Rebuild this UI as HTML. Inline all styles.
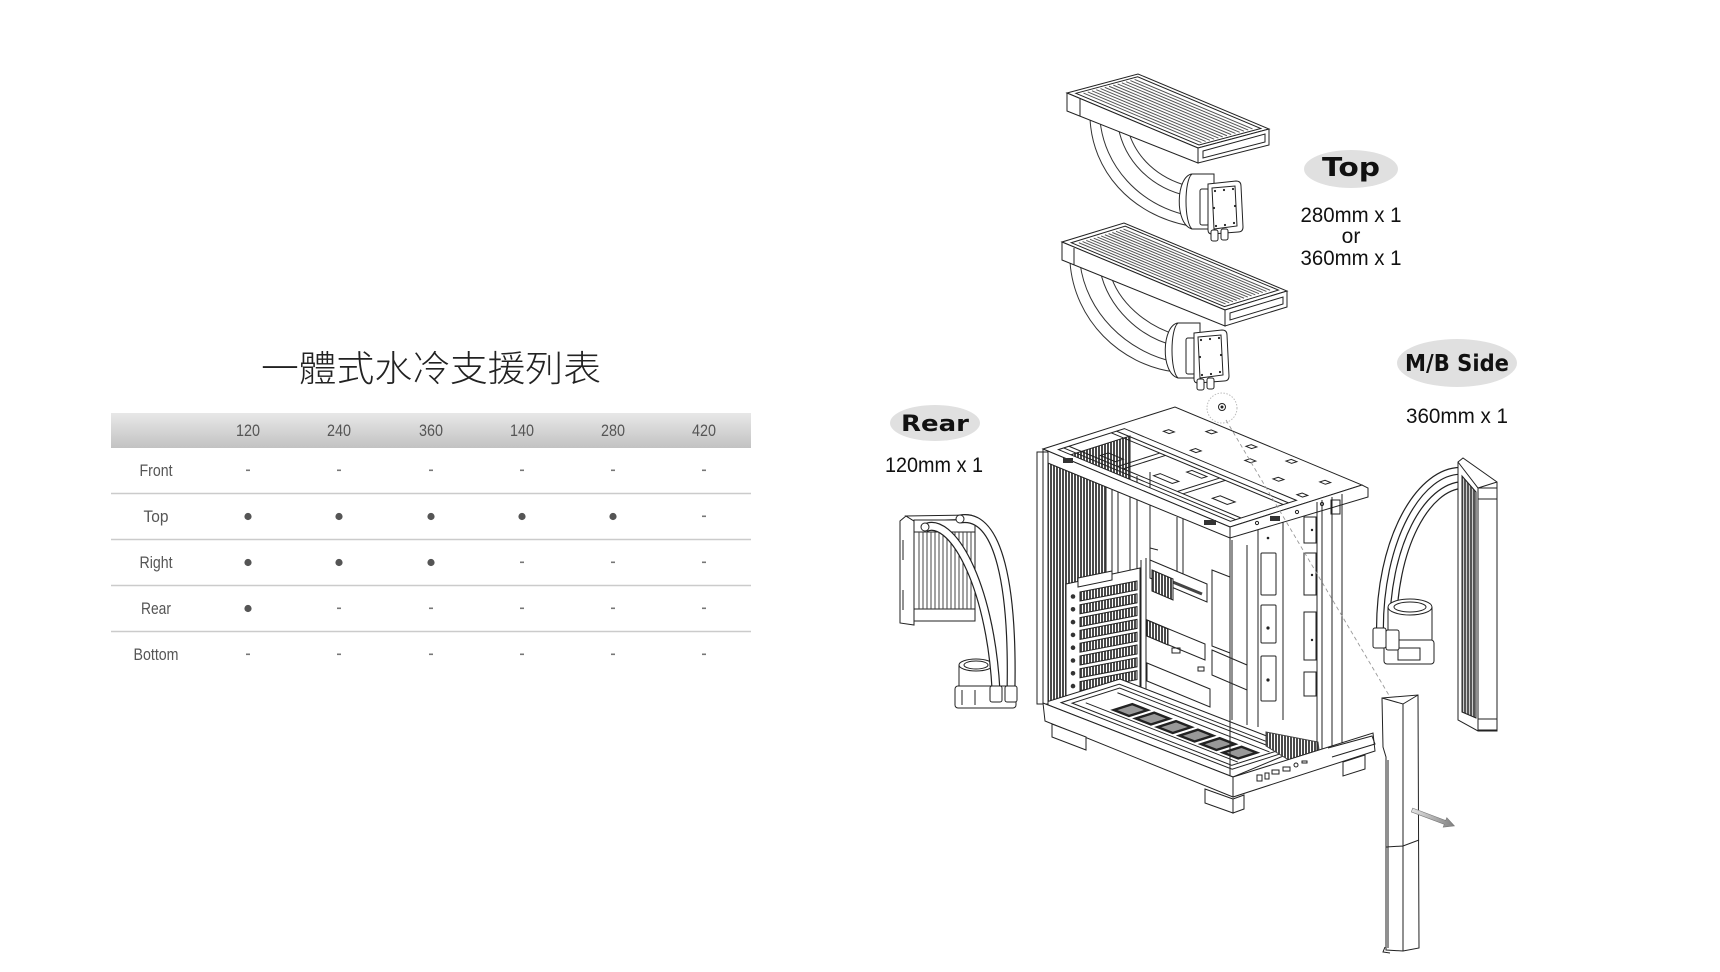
<!DOCTYPE html>
<html><head><meta charset="utf-8"><title>一體式水冷支援列表</title>
<style>html,body{margin:0;padding:0;background:#fff;width:1720px;height:972px;overflow:hidden}svg{display:block}</style>
</head><body>
<svg xmlns="http://www.w3.org/2000/svg" width="1720" height="972" viewBox="0 0 1720 972">
<defs>
<linearGradient id="hg" x1="0" y1="0" x2="0" y2="1"><stop offset="0" stop-color="#e8e8e8"/><stop offset="1" stop-color="#c2c2c2"/></linearGradient>
<pattern id="mesh" width="3" height="3" patternUnits="userSpaceOnUse"><rect width="3" height="3" fill="#fff"/><rect width="2" height="3" fill="#4a4a4a"/></pattern>
<pattern id="fin" width="3" height="4" patternUnits="userSpaceOnUse"><rect width="3" height="4" fill="#ccc"/><rect width="2" height="4" fill="#555"/></pattern>
<linearGradient id="ar" x1="0" y1="0" x2="1" y2="0"><stop offset="0" stop-color="#e4e4e4"/><stop offset="1" stop-color="#808080"/></linearGradient>
</defs>

<!-- ===== TABLE ===== -->
<text x="431" y="381" font-family="'Liberation Sans','Noto Sans CJK TC',sans-serif" font-size="36" font-weight="300" fill="#222" text-anchor="middle" textLength="340" lengthAdjust="spacingAndGlyphs">一體式水冷支援列表</text>
<rect x="111" y="413" width="640" height="35" fill="url(#hg)"/>
<g font-family="'Liberation Sans',sans-serif" font-size="17" fill="#555" text-anchor="middle">
<text x="248" y="436" textLength="24" lengthAdjust="spacingAndGlyphs">120</text>
<text x="339" y="436" textLength="24" lengthAdjust="spacingAndGlyphs">240</text>
<text x="431" y="436" textLength="24" lengthAdjust="spacingAndGlyphs">360</text>
<text x="522" y="436" textLength="24" lengthAdjust="spacingAndGlyphs">140</text>
<text x="613" y="436" textLength="24" lengthAdjust="spacingAndGlyphs">280</text>
<text x="704" y="436" textLength="24" lengthAdjust="spacingAndGlyphs">420</text>
<text x="156" y="476" textLength="33" lengthAdjust="spacingAndGlyphs">Front</text>
<text x="156" y="522" textLength="25" lengthAdjust="spacingAndGlyphs">Top</text>
<text x="156" y="568" textLength="33" lengthAdjust="spacingAndGlyphs">Right</text>
<text x="156" y="614" textLength="30" lengthAdjust="spacingAndGlyphs">Rear</text>
<text x="156" y="660" textLength="45" lengthAdjust="spacingAndGlyphs">Bottom</text>
</g>
<path d="M111,493.5H751M111,539.5H751M111,585.5H751M111,631.5H751" stroke="#cbcbcb" stroke-width="1.4"/>
<g fill="#555">
<circle cx="248" cy="516.5" r="3.6"/><circle cx="339" cy="516.5" r="3.6"/><circle cx="431" cy="516.5" r="3.6"/><circle cx="522" cy="516.5" r="3.6"/><circle cx="613" cy="516.5" r="3.6"/>
<circle cx="248" cy="562.5" r="3.6"/><circle cx="339" cy="562.5" r="3.6"/><circle cx="431" cy="562.5" r="3.6"/>
<circle cx="248" cy="608.5" r="3.6"/>
</g>
<g fill="#777">
<rect x="246" y="469.5" width="4" height="1.6"/><rect x="337" y="469.5" width="4" height="1.6"/><rect x="429" y="469.5" width="4" height="1.6"/><rect x="520" y="469.5" width="4" height="1.6"/><rect x="611" y="469.5" width="4" height="1.6"/><rect x="702" y="469.5" width="4" height="1.6"/>
<rect x="702" y="515.5" width="4" height="1.6"/>
<rect x="520" y="561.5" width="4" height="1.6"/><rect x="611" y="561.5" width="4" height="1.6"/><rect x="702" y="561.5" width="4" height="1.6"/>
<rect x="337" y="607.5" width="4" height="1.6"/><rect x="429" y="607.5" width="4" height="1.6"/><rect x="520" y="607.5" width="4" height="1.6"/><rect x="611" y="607.5" width="4" height="1.6"/><rect x="702" y="607.5" width="4" height="1.6"/>
<rect x="246" y="653.5" width="4" height="1.6"/><rect x="337" y="653.5" width="4" height="1.6"/><rect x="429" y="653.5" width="4" height="1.6"/><rect x="520" y="653.5" width="4" height="1.6"/><rect x="611" y="653.5" width="4" height="1.6"/><rect x="702" y="653.5" width="4" height="1.6"/>
</g>

<!-- ===== LABELS ===== -->
<ellipse cx="1351" cy="169" rx="47" ry="19" fill="#e0e0e0"/>
<ellipse cx="935" cy="423" rx="45" ry="18" fill="#e0e0e0"/>
<ellipse cx="1457" cy="363" rx="60" ry="24" fill="#e0e0e0"/>
<g font-family="'DejaVu Sans','Liberation Sans',sans-serif" font-weight="bold" fill="#111" text-anchor="middle">
<text x="1351" y="176" font-size="26" textLength="58" lengthAdjust="spacingAndGlyphs">Top</text>
<text x="935" y="431" font-size="22" textLength="68" lengthAdjust="spacingAndGlyphs">Rear</text>
<text x="1457" y="371" font-size="23" textLength="104" lengthAdjust="spacingAndGlyphs">M/B Side</text>
</g>
<g font-family="'Liberation Sans',sans-serif" font-size="21" fill="#111" text-anchor="middle">
<text x="1351" y="222" textLength="101" lengthAdjust="spacingAndGlyphs">280mm x 1</text>
<text x="1351" y="243">or</text>
<text x="1351" y="265" textLength="101" lengthAdjust="spacingAndGlyphs">360mm x 1</text>
<text x="934" y="472" textLength="98" lengthAdjust="spacingAndGlyphs">120mm x 1</text>
<text x="1457" y="423" textLength="102" lengthAdjust="spacingAndGlyphs">360mm x 1</text>
</g>

<!-- ===== TOP RADIATOR 1 (280) ===== -->
<g stroke="#333" fill="none" stroke-width="1">
<path d="M1090,118 C1092,170 1130,215 1190,226 M1100,120 C1104,165 1138,205 1190,216 M1118,126 C1124,160 1150,188 1188,196 M1128,130 C1136,158 1158,178 1188,186"/>
</g>
<g transform="matrix(1.31,0.55,0.71,-0.19,1067,93)" stroke="#222" fill="none">
<rect width="100" height="100" fill="#fff" vector-effect="non-scaling-stroke"/>
<rect x="3" y="7" width="94" height="87" vector-effect="non-scaling-stroke"/>
<path d="M5,14H95M5,20H95M5,26H95M5,32H95M5,38H95M5,44H95M5,50H95M5,56H95M5,62H95M5,68H95M5,74H95M5,80H95M5,86H95" stroke="#555" vector-effect="non-scaling-stroke"/>
</g>
<polygon points="1067,93 1198,148 1198,163 1067,111" fill="#fff" stroke="#222"/>
<polygon points="1198,148 1269,129 1269,145 1198,163" fill="#fff" stroke="#222"/>
<polygon points="1203,151 1265,134 1265,142 1203,158" fill="none" stroke="#222"/>
<path d="M1080,99 V116" stroke="#222"/>

<g stroke="#222" fill="#fff">
<path d="M1214,174 H1192 C1176,176 1174,224 1192,229 H1214 Z"/>
<path d="M1192,174 C1184,180 1184,222 1192,229" fill="none"/>
<rect x="1200" y="189" width="9" height="36" rx="2"/>
<path d="M1208,184 L1236,181 Q1241,181 1241,186 L1243,227 Q1243,232 1238,232 L1212,234 Q1208,234 1208,230 Z"/>
<path d="M1212,188 L1235,186 L1237,226 L1214,229 Z" fill="none"/>
<rect x="1211" y="230" width="7" height="11" rx="2"/>
<rect x="1221" y="229" width="7" height="11" rx="2"/>
<g fill="#222" stroke="none">
<circle cx="1215" cy="191" r="1.1"/><circle cx="1233" cy="189" r="1.1"/><circle cx="1234" cy="223" r="1.1"/><circle cx="1216" cy="226" r="1.1"/><circle cx="1224" cy="190" r="1.1"/><circle cx="1235" cy="206" r="1.1"/><circle cx="1225" cy="225" r="1.1"/><circle cx="1214" cy="208" r="1.1"/>
</g>
</g>

<!-- ===== TOP RADIATOR 2 (360) ===== -->
<g stroke="#333" fill="none" stroke-width="1">
<path d="M1070,262 C1074,320 1120,365 1175,372 M1080,263 C1086,312 1126,352 1175,362 M1100,270 C1108,308 1140,338 1176,346 M1110,273 C1118,302 1146,326 1177,335"/>
</g>
<g transform="matrix(1.63,0.68,0.62,-0.19,1062,242)" stroke="#222" fill="none">
<rect width="100" height="100" fill="#fff" vector-effect="non-scaling-stroke"/>
<rect x="3" y="7" width="94" height="87" vector-effect="non-scaling-stroke"/>
<path d="M5,14H95M5,20H95M5,26H95M5,32H95M5,38H95M5,44H95M5,50H95M5,56H95M5,62H95M5,68H95M5,74H95M5,80H95M5,86H95" stroke="#555" vector-effect="non-scaling-stroke"/>
</g>
<polygon points="1062,242 1225,310 1225,326 1062,260" fill="#fff" stroke="#222"/>
<polygon points="1225,310 1287,291 1287,307 1225,326" fill="#fff" stroke="#222"/>
<polygon points="1230,313 1283,297 1283,304 1230,320" fill="none" stroke="#222"/>
<path d="M1074,248 V265" stroke="#222"/>

<g transform="translate(-14,149)" stroke="#222" fill="#fff">
<path d="M1214,174 H1192 C1176,176 1174,224 1192,229 H1214 Z"/>
<path d="M1192,174 C1184,180 1184,222 1192,229" fill="none"/>
<rect x="1200" y="189" width="9" height="36" rx="2"/>
<path d="M1208,184 L1236,181 Q1241,181 1241,186 L1243,227 Q1243,232 1238,232 L1212,234 Q1208,234 1208,230 Z"/>
<path d="M1212,188 L1235,186 L1237,226 L1214,229 Z" fill="none"/>
<rect x="1211" y="230" width="7" height="11" rx="2"/>
<rect x="1221" y="229" width="7" height="11" rx="2"/>
<g fill="#222" stroke="none">
<circle cx="1215" cy="191" r="1.1"/><circle cx="1233" cy="189" r="1.1"/><circle cx="1234" cy="223" r="1.1"/><circle cx="1216" cy="226" r="1.1"/><circle cx="1224" cy="190" r="1.1"/><circle cx="1235" cy="206" r="1.1"/><circle cx="1225" cy="225" r="1.1"/><circle cx="1214" cy="208" r="1.1"/>
</g>
</g>

<!-- ===== CASE: interior ===== -->
<g stroke="#222" stroke-width="1" fill="none">
<polygon points="1048,462 1130,436 1130,478 1106,485 1106,684 1048,702" fill="url(#mesh)"/>
<path d="M1112,483V580 M1118,481V578 M1130,478V572 M1137,476V570 M1150,472V565"/>
<polygon points="1066,584 1140,568 1140,696 1066,704" fill="#fff"/>
<polygon points="1078,578 1112,571 1112,580 1078,587" fill="#fff"/>
<g fill="url(#mesh)">
<polygon points="1080,592 1137,581 1137,590 1080,601"/>
<polygon points="1080,604.8 1137,593.8 1137,602.8 1080,613.8"/>
<polygon points="1080,617.6 1137,606.6 1137,615.6 1080,626.6"/>
<polygon points="1080,630.4 1137,619.4 1137,628.4 1080,639.4"/>
<polygon points="1080,643.2 1137,632.2 1137,641.2 1080,652.2"/>
<polygon points="1080,656 1137,645 1137,654 1080,665"/>
<polygon points="1080,668.8 1137,657.8 1137,666.8 1080,677.8"/>
<polygon points="1080,681.6 1137,670.6 1137,679.6 1080,690.6"/>
</g>
<g fill="#333" stroke="none">
<circle cx="1073" cy="596.5" r="2.3"/><circle cx="1073" cy="609.3" r="2.3"/><circle cx="1073" cy="622.1" r="2.3"/><circle cx="1073" cy="634.9" r="2.3"/><circle cx="1073" cy="647.7" r="2.3"/><circle cx="1073" cy="660.5" r="2.3"/><circle cx="1073" cy="673.3" r="2.3"/><circle cx="1073" cy="686.1" r="2.3"/>
</g>
<path d="M1141,560V706 M1146,558V704 M1177,517V578 M1183,515V575 M1232,540V720 M1247,545V725"/>
<polygon points="1150,560 1207,584 1207,602 1150,578" fill="#fff"/>
<path d="M1158,576 L1202,594" stroke-width="3" stroke="#444"/>
<polygon points="1152,570 1173,579 1173,600 1152,591" fill="url(#mesh)"/>
<polygon points="1147,620 1205,644 1205,660 1147,636"/>
<polygon points="1147,620 1168,629 1168,645 1147,636" fill="url(#mesh)"/>
<polygon points="1147,663 1210,689 1210,707 1147,681"/>
<polygon points="1212,570 1230,577 1230,653 1212,646"/>
<polygon points="1212,650 1247,665 1247,690 1212,675"/>
<rect x="1172" y="648" width="8" height="5"/><rect x="1198" y="667" width="6" height="4"/>
<path d="M1150,528 V548 L1158,550"/>
<path d="M1258,518V727 M1283,512V720"/>
<rect x="1261" y="553" width="15" height="42" rx="1"/>
<rect x="1261" y="605" width="15" height="38" rx="1"/>
<rect x="1261" y="656" width="15" height="45" rx="1"/>
<rect x="1304" y="517" width="12" height="26"/>
<rect x="1304" y="553" width="12" height="42"/>
<rect x="1304" y="612" width="12" height="48"/>
<rect x="1304" y="672" width="12" height="24"/>
<g fill="#222" stroke="none"><circle cx="1268" cy="538" r="1.3"/><circle cx="1268" cy="628" r="1.6"/><circle cx="1268" cy="680" r="1.6"/><circle cx="1312" cy="530" r="1.2"/><circle cx="1312" cy="575" r="1.2"/><circle cx="1312" cy="640" r="1.2"/></g>
</g>

<!-- floor -->
<polygon points="1043,703 1120,679 1300,749 1233,777" fill="#fff" stroke="#222"/>
<g transform="matrix(1.90,0.74,1.32,-0.42,1043,703)" stroke="#222" fill="none">
<rect x="4" y="8" width="90" height="44" vector-effect="non-scaling-stroke"/>
<rect x="7" y="12" width="84" height="36" vector-effect="non-scaling-stroke"/>
<path d="M10,18H90M10,42H90" vector-effect="non-scaling-stroke"/>
<g fill="#999" stroke-width="2.4">
<rect x="22" y="22" width="8" height="14" vector-effect="non-scaling-stroke"/>
<rect x="33.5" y="22" width="8" height="14" vector-effect="non-scaling-stroke"/>
<rect x="45" y="22" width="8" height="14" vector-effect="non-scaling-stroke"/>
<rect x="56.5" y="22" width="8" height="14" vector-effect="non-scaling-stroke"/>
<rect x="68" y="22" width="8" height="14" vector-effect="non-scaling-stroke"/>
<rect x="79.5" y="22" width="8" height="14" vector-effect="non-scaling-stroke"/>
</g>
</g>
<polygon points="1266,732 1318,742 1320,758 1292,762 1266,746" fill="url(#mesh)" stroke="#444"/>

<!-- top slab -->
<g transform="matrix(1.87,0.78,1.32,-0.42,1043,449)" stroke="#222" fill="none">
<path d="M0,0H100V100H0Z M4,6H96V56H4Z" fill="#fff" fill-rule="evenodd" vector-effect="non-scaling-stroke"/>
<path d="M4,10H96M4,14H96M4,46H96M4,50H96" vector-effect="non-scaling-stroke"/>
<path d="M30,14V46M33,14V46M62,14V46M65,14V46" vector-effect="non-scaling-stroke"/>
<rect x="18" y="18" width="8" height="6" vector-effect="non-scaling-stroke"/>
<rect x="45" y="20" width="10" height="5" vector-effect="non-scaling-stroke"/>
<rect x="75" y="22" width="8" height="6" vector-effect="non-scaling-stroke"/>
<rect x="50" y="38" width="8" height="4" vector-effect="non-scaling-stroke"/>
<rect x="15" y="70" width="3" height="4" vector-effect="non-scaling-stroke"/>
<rect x="35" y="62" width="3" height="4" vector-effect="non-scaling-stroke"/>
<rect x="55" y="75" width="3" height="4" vector-effect="non-scaling-stroke"/>
<rect x="75" y="68" width="3" height="4" vector-effect="non-scaling-stroke"/>
<rect x="88" y="85" width="3" height="4" vector-effect="non-scaling-stroke"/>
<rect x="45" y="90" width="3" height="4" vector-effect="non-scaling-stroke"/>
<rect x="25" y="88" width="3" height="4" vector-effect="non-scaling-stroke"/>
<rect x="65" y="92" width="3" height="4" vector-effect="non-scaling-stroke"/>
<rect x="92" y="62" width="3" height="4" vector-effect="non-scaling-stroke"/>
</g>
<polygon points="1043,449 1230,527 1230,538 1043,461" fill="#fff" stroke="#222"/>
<polygon points="1230,527 1362,485 1368,488 1368,497 1230,538" fill="#fff" stroke="#222"/>
<g fill="#333"><rect x="1063" y="458" width="10" height="5"/><rect x="1204" y="520" width="12" height="5"/><rect x="1270" y="516" width="10" height="5"/></g>
<g fill="none" stroke="#222"><circle cx="1257" cy="523" r="1.6"/><circle cx="1297" cy="512" r="1.6"/><circle cx="1322" cy="504" r="1.6"/><circle cx="1043" cy="455" r="2"/>
<rect x="1331" y="500" width="9" height="14"/></g>

<rect x="1037" y="452" width="11" height="252" fill="#fff" stroke="#222"/>
<path d="M1043,452V703" stroke="#222"/>
<path d="M1230,537V777 M1317,502V762 M1322,500V760 M1332,497V757 M1342,494V752" stroke="#222"/>

<!-- base -->
<polygon points="1043,703 1233,777 1233,797 1045,721" fill="#fff" stroke="#222"/>
<polygon points="1233,777 1373,733 1375,751 1233,797" fill="#fff" stroke="#222"/>
<path d="M1328,748 L1372,736 L1375,744 L1332,757" fill="none" stroke="#222"/>
<g fill="#fff" stroke="#222">
<polygon points="1052,724 1086,737 1086,750 1052,737"/>
<polygon points="1205,789 1233,799 1233,813 1205,803"/>
<polygon points="1233,799 1244,795 1244,809 1233,813"/>
<polygon points="1343,762 1365,755 1365,769 1343,776"/>
</g>
<g fill="none" stroke="#222">
<rect x="1257" y="775" width="5" height="6"/><rect x="1265" y="773" width="4" height="6"/><rect x="1272" y="770" width="7" height="4"/><rect x="1283" y="767" width="7" height="4"/><circle cx="1296" cy="765" r="2"/><rect x="1302" y="761" width="5" height="2"/>
</g>

<!-- screw circle + dashed line -->
<path d="M1226,420 L1390,697" stroke="#999" stroke-width="0.9" stroke-dasharray="4,3" fill="none"/>
<circle cx="1222" cy="408" r="15" fill="none" stroke="#bbb" stroke-dasharray="1.5,1.5"/>
<circle cx="1222" cy="407" r="3.5" fill="#fff" stroke="#222"/>
<circle cx="1222" cy="407" r="1.5" fill="#222"/>

<!-- ===== REAR 120 ===== -->
<g stroke="#222" fill="#fff">
<polygon points="900,521 906,516 914,521 914,625 900,623"/>
<polygon points="906,516 971,515 975,519 914,521"/>
<rect x="914" y="520" width="61" height="101"/>
<rect x="914" y="520" width="61" height="12"/>
<rect x="914" y="609" width="61" height="12"/>
<path d="M919,532V609M923,532V609M927,532V609M931,532V609M935,532V609M939,532V609M943,532V609M947,532V609M951,532V609M955,532V609M959,532V609M963,532V609M967,532V609M971,532V609" fill="none" stroke="#444"/>
<path d="M903,540V560 M903,590V610" fill="none"/>
<rect x="959" y="665" width="34" height="25"/>
<ellipse cx="976" cy="665" rx="17" ry="6"/>
<ellipse cx="976" cy="665" rx="12" ry="4" fill="none"/>
<rect x="955" y="686" width="61" height="22" rx="3"/>
<path d="M962,690V705 M975,690V705" fill="none"/>
</g>
<path d="M960,519 C1000,512 1013,590 1011,690" stroke="#222" stroke-width="9" fill="none"/>
<path d="M960,519 C1000,512 1013,590 1011,690" stroke="#fff" stroke-width="6.6" fill="none"/>
<path d="M925,528 C950,515 990,580 996,690" stroke="#222" stroke-width="9" fill="none"/>
<path d="M925,528 C950,515 990,580 996,690" stroke="#fff" stroke-width="6.6" fill="none"/>
<g stroke="#222" fill="#fff">
<circle cx="925" cy="527" r="4"/><circle cx="960" cy="519" r="4"/>
<rect x="990" y="686" width="12" height="16" rx="2"/><rect x="1005" y="686" width="12" height="16" rx="2"/>
</g>

<!-- ===== M/B SIDE 360 ===== -->
<path d="M1463,471 C1420,468 1378,540 1380,636" stroke="#222" stroke-width="8" fill="none"/>
<path d="M1463,471 C1420,468 1378,540 1380,636" stroke="#fff" stroke-width="5.6" fill="none"/>
<path d="M1463,485 C1428,486 1392,545 1393,636" stroke="#222" stroke-width="8" fill="none"/>
<path d="M1463,485 C1428,486 1392,545 1393,636" stroke="#fff" stroke-width="5.6" fill="none"/>
<g stroke="#222" fill="#fff">
<path d="M1388,607 V650 H1432 V607"/>
<ellipse cx="1410" cy="607" rx="22" ry="8"/>
<ellipse cx="1410" cy="607" rx="16" ry="5" fill="none"/>
<rect x="1384" y="640" width="50" height="24" rx="3"/>
<rect x="1398" y="648" width="22" height="12" fill="none"/>
<rect x="1373" y="628" width="13" height="20" rx="2"/>
<rect x="1386" y="630" width="13" height="20" rx="2"/>
<path d="M1458,462 L1463,458 L1497,482 L1497,731 L1478,731 L1458,720 Z"/>
<polygon points="1462,476 1476,492 1476,718 1462,712" fill="url(#fin)"/>
<path d="M1478,488 V731 M1458,462 L1478,488 L1497,482" fill="none"/>
<rect x="1478" y="488" width="19" height="11"/>
<rect x="1478" y="719" width="19" height="11"/>
</g>

<!-- ===== TALL PANEL ===== -->
<g stroke="#222" fill="#fff">
<path d="M1382,698 L1418,695 L1419,948 L1403,951 L1386,950 L1386,757 L1383,747 Z"/>
<path d="M1382,698 L1403,704 L1418,695 M1403,704 V951 M1386,847 L1403,846 L1419,840 M1388,760 V948" fill="none"/>
<path d="M1385,947 L1383,952 L1390,953" fill="none"/>
</g>
<polygon points="1412.7,808.1 1445.7,820.5 1446.8,817.7 1454.4,825.9 1443.2,827.1 1444.3,824.3 1411.3,811.9" fill="url(#ar)" stroke="#777" stroke-width="0.6"/>
</svg>
</body></html>
